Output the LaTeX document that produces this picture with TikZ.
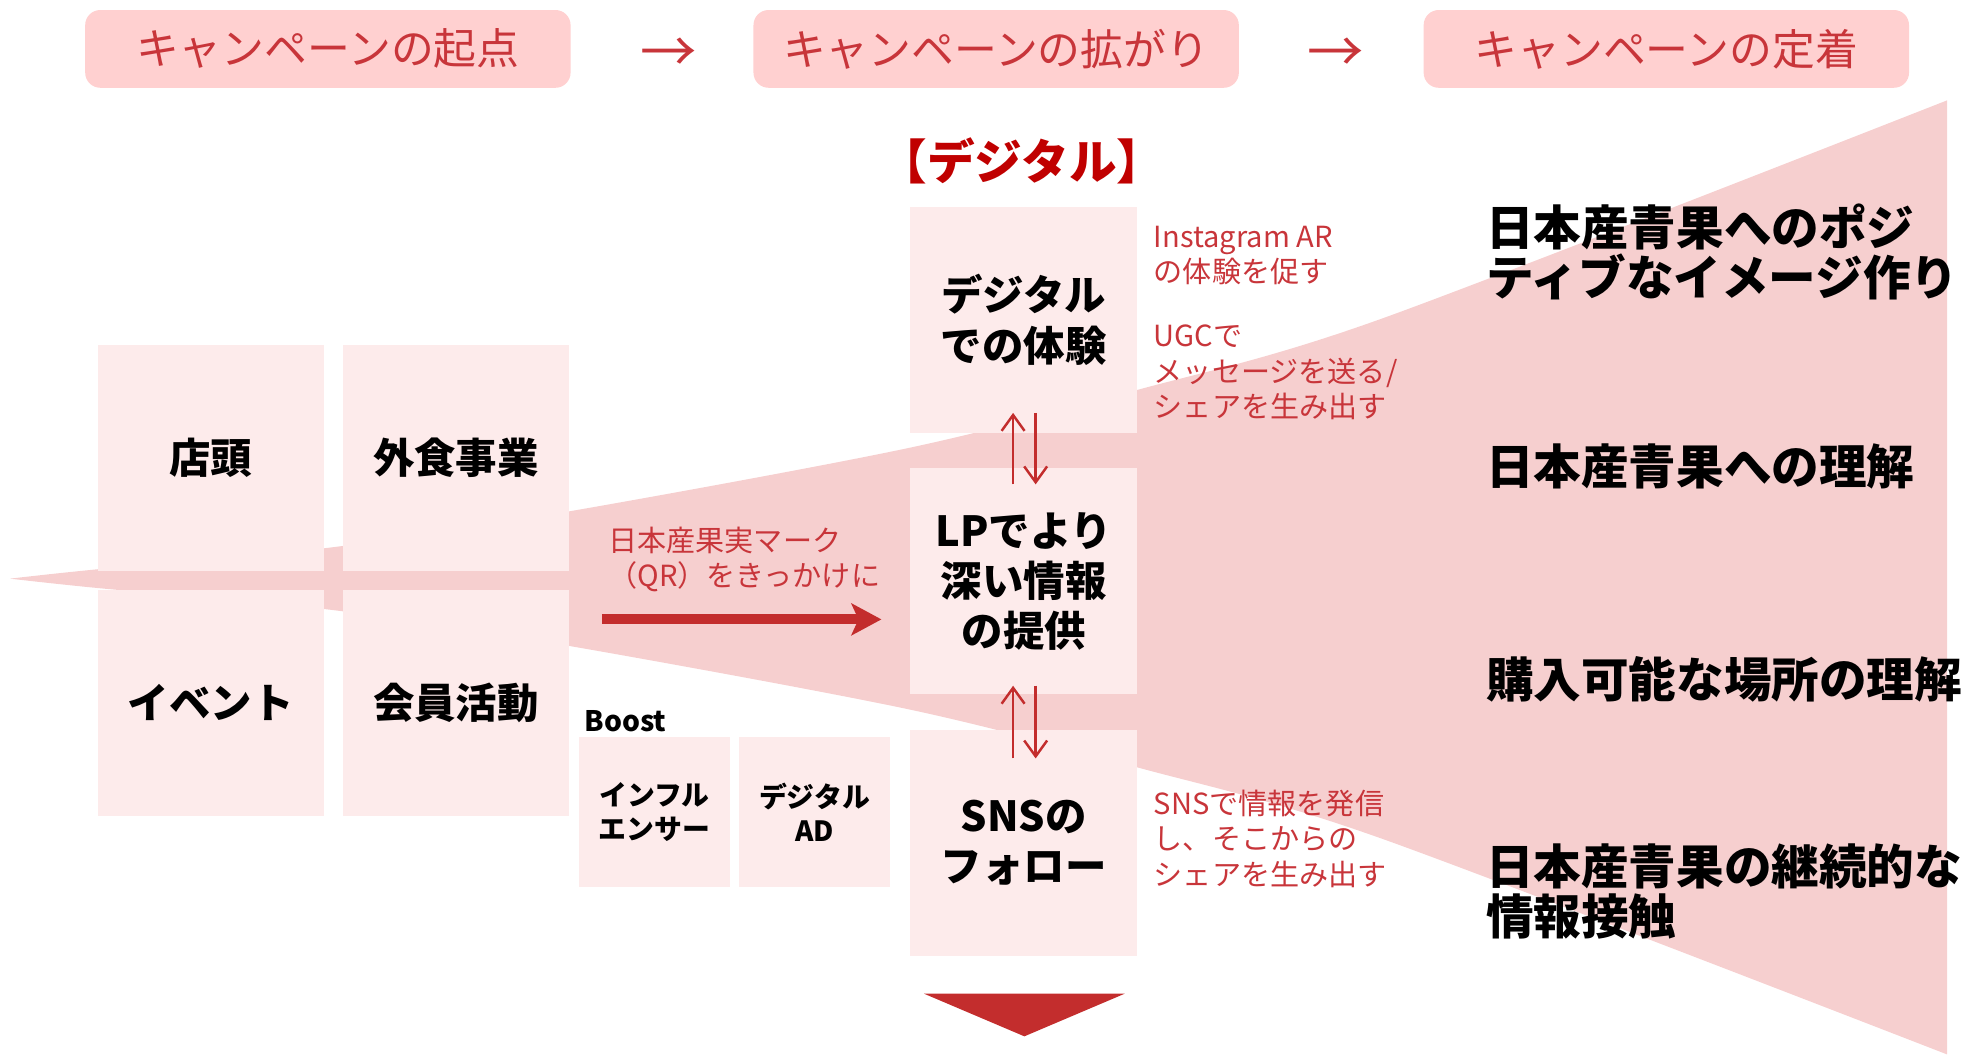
\documentclass[tikz,border=0pt]{standalone}
\usepackage{fontspec}
\setmainfont{Noto Sans CJK JP}
\usetikzlibrary{arrows.meta}
\usetikzlibrary{positioning}
\usetikzlibrary{calc}
\definecolor{funnelpink}{HTML}{F6CFCF}
\definecolor{boxpink}{HTML}{FDEBEB}
\definecolor{hdrpink}{HTML}{FFD0D0}
\definecolor{notered}{HTML}{C8353A}
\definecolor{arrowred}{HTML}{C32D2D}
\definecolor{darkred}{HTML}{C00000}

\begin{document}
\begin{tikzpicture}[x=0.025cm,y=-0.025cm]
  \tikzset{hdr/.style={fill=hdrpink, rounded corners=0.3cm, minimum width=9.675cm, minimum height=1.55cm, text=notered, font=\fontsize{24.3pt}{28pt}\selectfont}}
  \tikzset{box/.style={fill=boxpink, minimum width=4.5cm, minimum height=4.5cm, align=center, font=\bfseries\fontsize{23.5pt}{28.5pt}\selectfont}}
  \tikzset{sbox/.style={fill=boxpink, minimum width=3cm, minimum height=2.98cm, align=center, font=\bfseries\fontsize{15.8pt}{19.2pt}\selectfont}}
  \tikzset{note/.style={anchor=west, inner sep=0, align=left, text=notered, font=\fontsize{16.5pt}{20pt}\selectfont}}
  \tikzset{goal/.style={anchor=west, inner sep=0, align=left, font=\bfseries\fontsize{27pt}{28.5pt}\selectfont}}
  \tikzset{dbl/.style={draw=arrowred, line width=1.4pt, -{Straight Barb[length=9pt,width=13pt]}}}

  \useasboundingbox (0,0) rectangle (1568,842.2);

  % funnel
  \fill[funnelpink] plot[smooth] coordinates {(8,461.5) (78,454) (265,436.5) (453,408) (726,357) (907,311) (1101,254.5) (1553,80)}
    -- plot[smooth] coordinates {(1553,841) (1101,668.5) (907,612) (726,566) (453,515) (265,486.5) (78,469) (8,461.5)} -- cycle;

  % header
  \node[hdr] (h1) at (261.5,39) {キャンペーンの起点};
  \node[hdr] (h2) at (794.5,39) {キャンペーンの拡がり};
  \node[hdr] (h3) at (1329,39) {キャンペーンの定着};
  \node[text=notered, font=\fontsize{32pt}{32pt}\selectfont] (a1) at (533,44) {→};
  \node[text=notered, font=\fontsize{32pt}{32pt}\selectfont] (a2) at (1065,44) {→};

  % starting points
  \node[box] (tento) at (168,365) {店頭};
  \node[box, right=0.375cm of tento] (gaishoku) {外食事業};
  \node[box, below=0.375cm of tento] (event) {イベント};
  \node[box, right=0.375cm of event] (kaiin) {会員活動};

  % digital
  \node[text=darkred, font=\bfseries\fontsize{27pt}{28pt}\selectfont] (diglabel) at (815,128) {【デジタル】};
  \node[box, minimum width=4.525cm] (dig) at (816.5,255) {デジタル\\での体験};
  \node[box, minimum width=4.525cm, below=0.7cm of dig] (lp) {LPでより\\深い情報\\の提供};
  \node[box, minimum width=4.525cm, below=0.7cm of lp] (sns) {SNSの\\フォロー};

  \draw[dbl] ($(lp.north)+(-8.5,13)$) -- ($(dig.south)+(-8.5,-16)$);
  \draw[dbl] ($(dig.south)+(9.5,-16)$) -- ($(lp.north)+(9.5,13)$);
  \draw[dbl] ($(sns.north)+(-8.5,23)$) -- ($(lp.south)+(-8.5,-7)$);
  \draw[dbl] ($(lp.south)+(9.5,-7)$) -- ($(sns.north)+(9.5,23)$);

  \fill[arrowred] ($(sns.south)+(-79.5,30)$) -- ($(sns.south)+(80.5,30)$) -- ($(sns.south)+(0.5,64)$) -- cycle;

  % QR
  \node[note] (qr) at (485,446) {日本産果実マーク\\（QR）をきっかけに};
  \coordinate (qrstart) at (480,494);
  \coordinate (qrend) at (703,494);
  \draw[arrowred, line width=5.7pt, -{Stealth[length=17pt,width=18pt,inset=4pt]}] (qrstart) -- (qrend);

  % boost
  \node[anchor=west, inner sep=0, font=\bfseries\fontsize{16pt}{20pt}\selectfont] (boost) at (466,575) {Boost};
  \node[sbox] (infl) at (522,647.5) {インフル\\エンサー};
  \node[sbox, right=0.175cm of infl] (dad) {デジタル\\AD};

  % notes
  \node[note] (n1) at (920,204) {Instagram AR\\の体験を促す};
  \node[note] (n2) at (920,297) {UGCで\\メッセージを送る/\\シェアを生み出す};
  \node[note] (n3) at (920,669) {SNSで情報を発信\\し、そこからの\\シェアを生み出す};

  % goals
  \node[goal] (g1) at (1185,201) {日本産青果へのポジ\\ティブなイメージ作り};
  \node[goal] (g2) at (1185,372) {日本産青果への理解};
  \node[goal] (g3) at (1185,542) {購入可能な場所の理解};
  \node[goal] (g4) at (1185,711) {日本産青果の継続的な\\情報接触};

\end{tikzpicture}
\end{document}
